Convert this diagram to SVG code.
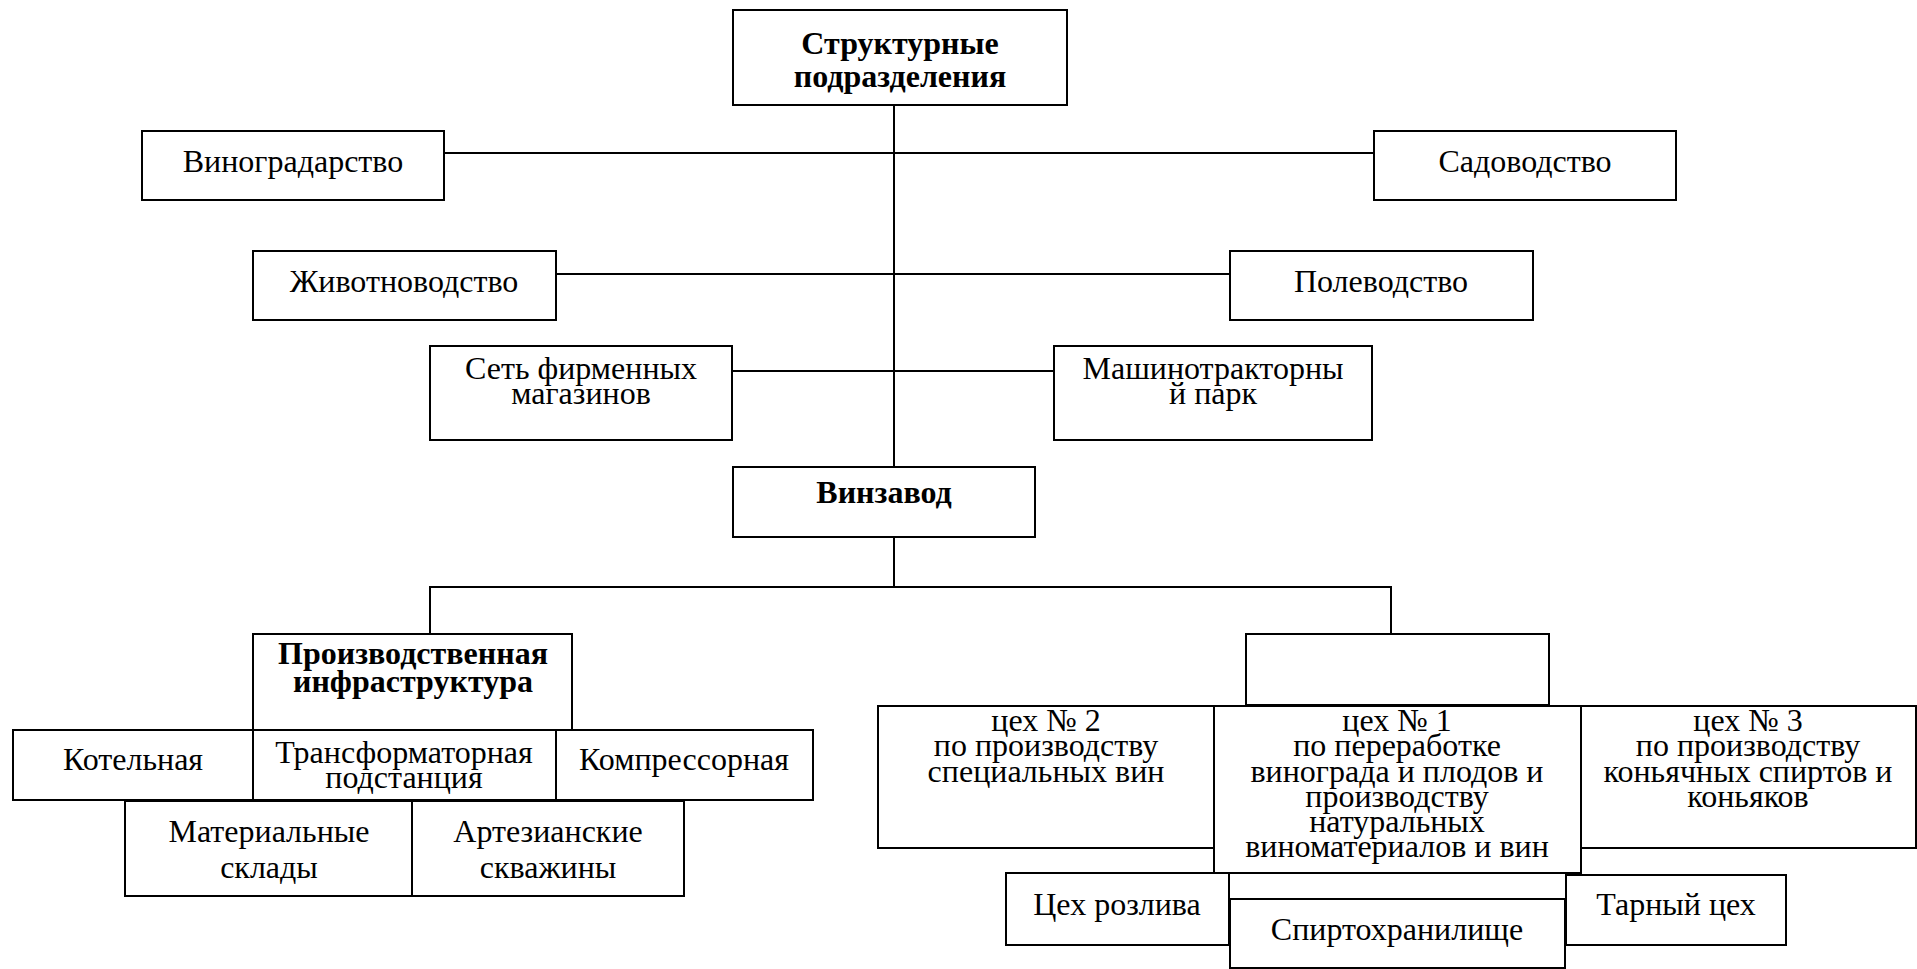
<svg xmlns="http://www.w3.org/2000/svg" width="1917" height="969" viewBox="0 0 1917 969">
<style>
.b{fill:#fff;stroke:#000;stroke-width:2}
.t{font-family:"Liberation Serif","Times New Roman","DejaVu Serif",serif;font-size:32px;fill:#000;text-anchor:middle}
.bd{font-weight:bold}
.c{stroke:#000;stroke-width:2;fill:none}
</style>
<rect width="1917" height="969" fill="#fff"/>
<g id="connectors">
<line class="c" x1="894" y1="105" x2="894" y2="467"/>
<line class="c" x1="444" y1="153" x2="1374" y2="153"/>
<line class="c" x1="556" y1="274" x2="1230" y2="274"/>
<line class="c" x1="732" y1="371" x2="1054" y2="371"/>
<line class="c" x1="894" y1="537" x2="894" y2="587"/>
<polyline class="c" points="430,634 430,587 1391,587 1391,634"/>
</g>
<g id="n-top"><rect class="b" x="733" y="10" width="334" height="95"/>
<text class="t bd" x="900" y="54">Структурные</text><text class="t bd" x="900" y="87">подразделения</text></g>
<g id="n-vinograd"><rect class="b" x="142" y="131" width="302" height="69"/><text class="t" x="293" y="172">Виноградарство</text></g>
<g id="n-sad"><rect class="b" x="1374" y="131" width="302" height="69"/><text class="t" x="1525" y="172">Садоводство</text></g>
<g id="n-zhivot"><rect class="b" x="253" y="251" width="303" height="69"/><text class="t" x="404" y="292">Животноводство</text></g>
<g id="n-pole"><rect class="b" x="1230" y="251" width="303" height="69"/><text class="t" x="1381" y="292">Полеводство</text></g>
<g id="n-set"><rect class="b" x="430" y="346" width="302" height="94"/>
<text class="t" x="581" y="379">Сеть фирменных</text><text class="t" x="581" y="404">магазинов</text></g>
<g id="n-mtp"><rect class="b" x="1054" y="346" width="318" height="94"/>
<text class="t" x="1213" y="379">Машинотракторны</text><text class="t" x="1213" y="404">й парк</text></g>
<g id="n-vinzavod"><rect class="b" x="733" y="467" width="302" height="70"/><text class="t bd" x="884" y="503">Винзавод</text></g>
<g id="n-infra"><rect class="b" x="253" y="634" width="319" height="96"/>
<text class="t bd" x="413" y="664">Производственная</text><text class="t bd" x="413" y="692">инфраструктура</text></g>
<g id="n-kotel"><rect class="b" x="13" y="730" width="240" height="70"/><text class="t" x="133" y="770">Котельная</text></g>
<g id="n-trans"><rect class="b" x="253" y="730" width="303" height="70"/>
<text class="t" x="404" y="763">Трансформаторная</text><text class="t" x="404" y="788">подстанция</text></g>
<g id="n-kompr"><rect class="b" x="556" y="730" width="257" height="70"/><text class="t" x="684" y="770">Компрессорная</text></g>
<g id="n-mat"><rect class="b" x="125" y="801" width="287" height="95"/>
<text class="t" x="269" y="842">Материальные</text><text class="t" x="269" y="878">склады</text></g>
<g id="n-artez"><rect class="b" x="412" y="801" width="272" height="95"/>
<text class="t" x="548" y="842">Артезианские</text><text class="t" x="548" y="878">скважины</text></g>
<g id="n-empty"><rect class="b" x="1246" y="634" width="303" height="71"/></g>
<g id="n-ceh2"><rect class="b" x="878" y="706" width="336" height="142"/>
<text class="t" x="1046" y="731">цех № 2</text><text class="t" x="1046" y="756">по производству</text><text class="t" x="1046" y="782">специальных вин</text></g>
<g id="n-ceh1"><rect class="b" x="1214" y="706" width="367" height="167"/>
<text class="t" x="1397" y="731">цех № 1</text><text class="t" x="1397" y="756">по переработке</text><text class="t" x="1397" y="782">винограда и плодов и</text><text class="t" x="1397" y="807">производству</text><text class="t" x="1397" y="832">натуральных</text><text class="t" x="1397" y="857">виноматериалов и вин</text></g>
<g id="n-ceh3"><rect class="b" x="1581" y="706" width="335" height="142"/>
<text class="t" x="1748" y="731">цех № 3</text><text class="t" x="1748" y="756">по производству</text><text class="t" x="1748" y="782">коньячных спиртов и</text><text class="t" x="1748" y="807">коньяков</text></g>
<g id="n-rozliv"><rect class="b" x="1006" y="873" width="223" height="72"/><text class="t" x="1117" y="915">Цех розлива</text></g>
<g id="n-spirt"><rect class="b" x="1230" y="899" width="335" height="69"/><text class="t" x="1397" y="940">Спиртохранилище</text></g>
<g id="n-tara"><rect class="b" x="1566" y="875" width="220" height="70"/><text class="t" x="1676" y="915">Тарный цех</text></g>
</svg>
